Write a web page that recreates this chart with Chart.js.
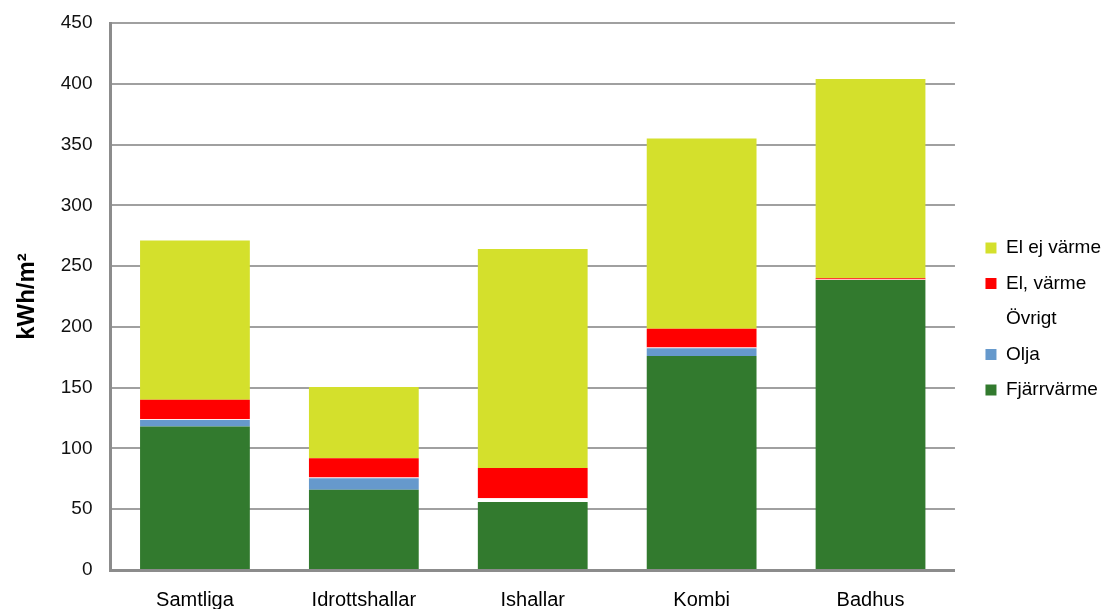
<!DOCTYPE html>
<html>
<head>
<meta charset="utf-8">
<script src="https://cdn.jsdelivr.net/npm/chart.js@4"></script>
<style>
  html, body { margin: 0; padding: 0; background: #fff; }
  #wrap { width: 1108px; height: 609px; }
</style>
</head>
<body>
<div id="wrap"><canvas id="energyChart"></canvas></div>
<script>
const categories = ['Samtliga', 'Idrottshallar', 'Ishallar', 'Kombi', 'Badhus'];

const fjarrvarme = [118, 66, 56, 176, 238.5];
const olja       = [5.5, 9.5, 0, 6.5, 0];
const ovrigt     = [0.5, 0.5, 3, 0.5, 0.5];
const elVarme    = [16, 16, 25, 15.5, 1];
const elEjVarme  = [131, 58.5, 180, 156.5, 164];

const yTicks = [0, 50, 100, 150, 200, 250, 300, 350, 400, 450];

// nudge the legend a little right and down, like the original
const legendShift = {
  id: 'legendShift',
  afterLayout(chart) {
    const lg = chart.legend;
    lg.left += 14; lg.right += 14;
    lg.top += 4; lg.bottom += 4;
  }
};

document.addEventListener('DOMContentLoaded', () => {
  const ctx = document.getElementById('energyChart').getContext('2d');
  const font = { family: 'Liberation Sans, Arial', size: 19 };

  const bar = (label, data, color) => ({
    label,
    data,
    backgroundColor: color,
    borderWidth: 0,
    barPercentage: 0.65,
    categoryPercentage: 1.0
  });

  new Chart(ctx, {
    type: 'bar',
    data: {
      labels: categories,
      datasets: [
        bar('Fjärrvärme', fjarrvarme, '#327a2e'),
        bar('Olja', olja, '#6699cc'),
        bar('Övrigt', ovrigt, '#ffffff'),
        bar('El, värme', elVarme, '#ff0000'),
        bar('El ej värme', elEjVarme, '#d4e02c')
      ]
    },
    options: {
      responsive: true,
      maintainAspectRatio: false,
      animation: false,
      layout: { padding: { top: 0, left: 0, right: 11, bottom: -21 } },
      plugins: {
        tooltip: { enabled: false },
        legend: {
          position: 'right',
          reverse: true,
          labels: {
            boxWidth: 11,
            boxHeight: 11,
            padding: 16.5,
            color: '#000',
            font
          }
        }
      },
      scales: {
        x: {
          stacked: true,
          grid: { display: false, drawTicks: false },
          border: { color: '#8c8c8c', width: 3 },
          ticks: { padding: 18, color: '#000', font: { family: 'Liberation Sans, Arial', size: 20 } }
        },
        y: {
          stacked: true,
          min: 0,
          max: 450,
          afterBuildTicks: axis => { axis.ticks = yTicks.map(v => ({ value: v })); },
          afterFit: axis => { axis.paddingTop = 23; },
          grid: { color: '#a0a0a0', lineWidth: 2, drawTicks: false },
          border: { color: '#8c8c8c', width: 3 },
          ticks: { padding: 18, color: '#111', font },
          title: {
            display: true,
            text: 'kWh/m²',
            color: '#000',
            padding: { top: 13, bottom: 1 },
            font: { family: 'Liberation Sans, Arial', size: 24, weight: 'bold' }
          }
        }
      }
    },
    plugins: [legendShift]
  });
});
</script>
</body>
</html>
